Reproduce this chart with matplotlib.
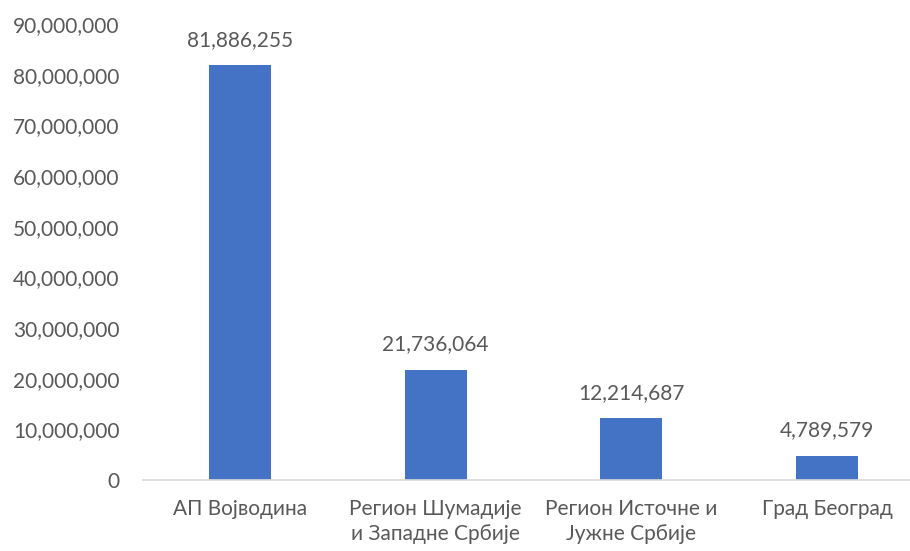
import matplotlib.pyplot as plt
from matplotlib.ticker import FuncFormatter

# regioni i vrednosti
regioni = ["АП Војводина", "Регион Шумадије\nи Западне Србије",
           "Регион Источне и\nЈужне Србије", "Град Београд"]
vrednosti = [81886255, 21736064, 12214687, 4789579]

siva = "#595959"
plt.rcParams["font.family"] = ["Lato", "DejaVu Sans"]

fig = plt.figure(figsize=(9.1, 5.51), dpi=100)
ax = fig.add_axes([143 / 910, 71 / 551, 767 / 910, 456 / 551])

x = range(len(regioni))
ax.bar(x, vrednosti, width=0.317, color="#4472C4", zorder=2)

for xi, v in zip(x, vrednosti):
    ax.annotate(f"{v:,}", (xi, v), xytext=(0, 11), textcoords="offset points",
                ha="center", va="bottom", fontsize=15, color=siva)

ax.set_xlim(-0.496, 3.424)
ax.set_ylim(0, 90000000)
ax.set_yticks(range(0, 90000001, 10000000))
ax.yaxis.set_major_formatter(FuncFormatter(lambda v, p: f"{int(v):,}"))
ax.set_xticks(list(x))
ax.set_xticklabels(regioni, linespacing=1.3)

for s in ["top", "right", "left"]:
    ax.spines[s].set_visible(False)
ax.spines["bottom"].set_color("#D9D9D9")
ax.spines["bottom"].set_linewidth(1.2)
ax.tick_params(axis="both", length=0, labelsize=15, colors=siva)
ax.tick_params(axis="y", pad=17)
ax.tick_params(axis="x", pad=14)

fig.savefig("out.png", dpi=100)
